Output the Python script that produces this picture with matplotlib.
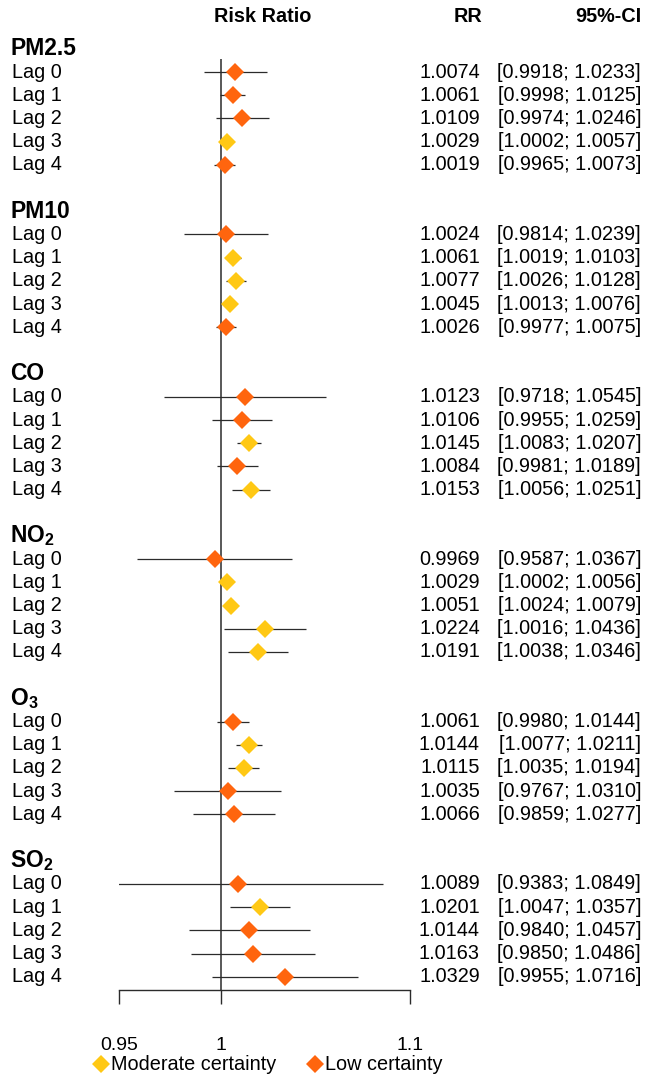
import matplotlib
matplotlib.use("Agg")
import matplotlib.pyplot as plt
import matplotlib.transforms as mtransforms
from matplotlib.lines import Line2D
from matplotlib.ticker import FixedLocator, FixedFormatter, NullLocator

plt.rcParams['font.family'] = ['Liberation Sans', 'DejaVu Sans']
plt.rcParams['mathtext.fontset'] = 'custom'
plt.rcParams['mathtext.rm'] = 'Liberation Sans'
plt.rcParams['mathtext.bf'] = 'Liberation Sans:bold'

# ---------------- data ----------------
pollutants = ['PM2.5', 'PM10', 'CO', r'NO$_{\mathbf{2}}$', r'O$_{\mathbf{3}}$', r'SO$_{\mathbf{2}}$']
lags = ['Lag 0', 'Lag 1', 'Lag 2', 'Lag 3', 'Lag 4']

rr_pm25 = [1.0074, 1.0061, 1.0109, 1.0029, 1.0019]
lo_pm25 = [0.9918, 0.9998, 0.9974, 1.0002, 0.9965]
hi_pm25 = [1.0233, 1.0125, 1.0246, 1.0057, 1.0073]
ce_pm25 = ['L', 'L', 'L', 'M', 'L']

rr_pm10 = [1.0024, 1.0061, 1.0077, 1.0045, 1.0026]
lo_pm10 = [0.9814, 1.0019, 1.0026, 1.0013, 0.9977]
hi_pm10 = [1.0239, 1.0103, 1.0128, 1.0076, 1.0075]
ce_pm10 = ['L', 'M', 'M', 'M', 'L']

rr_co = [1.0123, 1.0106, 1.0145, 1.0084, 1.0153]
lo_co = [0.9718, 0.9955, 1.0083, 0.9981, 1.0056]
hi_co = [1.0545, 1.0259, 1.0207, 1.0189, 1.0251]
ce_co = ['L', 'L', 'M', 'L', 'M']

rr_no2 = [0.9969, 1.0029, 1.0051, 1.0224, 1.0191]
lo_no2 = [0.9587, 1.0002, 1.0024, 1.0016, 1.0038]
hi_no2 = [1.0367, 1.0056, 1.0079, 1.0436, 1.0346]
ce_no2 = ['L', 'M', 'M', 'M', 'M']

rr_o3 = [1.0061, 1.0144, 1.0115, 1.0035, 1.0066]
lo_o3 = [0.9980, 1.0077, 1.0035, 0.9767, 0.9859]
hi_o3 = [1.0144, 1.0211, 1.0194, 1.0310, 1.0277]
ce_o3 = ['L', 'M', 'M', 'L', 'L']

rr_so2 = [1.0089, 1.0201, 1.0144, 1.0163, 1.0329]
lo_so2 = [0.9383, 1.0047, 0.9840, 0.9850, 0.9955]
hi_so2 = [1.0849, 1.0357, 1.0457, 1.0486, 1.0716]
ce_so2 = ['L', 'M', 'L', 'L', 'L']

xticks = [0.95, 1.0, 1.1]
xtick_labels = ['0.95', '1', '1.1']
legend_labels = ['Moderate certainty', 'Low certainty']

groups = [
    (rr_pm25, lo_pm25, hi_pm25, ce_pm25),
    (rr_pm10, lo_pm10, hi_pm10, ce_pm10),
    (rr_co, lo_co, hi_co, ce_co),
    (rr_no2, lo_no2, hi_no2, ce_no2),
    (rr_o3, lo_o3, hi_o3, ce_o3),
    (rr_so2, lo_so2, hi_so2, ce_so2),
]

# ---------------- style ----------------
W, H = 654, 1080
YEL = '#FFC814'
ORA = '#FF650E'
colors = {'M': YEL, 'L': ORA}
LINEC = '#2b2b2b'

row0_px = 48.8
row_px = 23.2
top_px, bot_px = 40, 990
x_left_px, x_right_px = 119, 410

fig = plt.figure(figsize=(W / 100, H / 100), dpi=100)
ax = fig.add_axes([x_left_px / W, 1 - bot_px / H,
                   (x_right_px - x_left_px) / W, (bot_px - top_px) / H])
ax.set_xscale('log')
ax.set_xlim(0.95, 1.1)
ymin_row = (top_px - row0_px) / row_px
ymax_row = (bot_px - row0_px) / row_px
ax.set_ylim(ymax_row, ymin_row)

for s in ['top', 'right', 'left']:
    ax.spines[s].set_visible(False)
ax.spines['bottom'].set_color(LINEC)
ax.spines['bottom'].set_linewidth(1.0)
ax.set_yticks([])
ax.xaxis.set_major_locator(FixedLocator(xticks))
ax.xaxis.set_major_formatter(FixedFormatter(xtick_labels))
ax.xaxis.set_minor_locator(NullLocator())
ax.tick_params(axis='x', direction='out', length=10, width=1.0, color=LINEC,
               labelsize=14, pad=24, labelcolor='black')

trans = mtransforms.blended_transform_factory(fig.transFigure, ax.transData)

# reference line
ax.vlines(1.0, 0.45, ymax_row, color=LINEC, lw=1.1, zorder=1)

row = 0
for gi, (rr, lo, hi, ce) in enumerate(groups):
    ax.text(10 / W, row, pollutants[gi], transform=trans, ha='left', va='center',
            fontsize=16.5, fontweight='bold')
    for li in range(5):
        r = row + 1 + li
        ax.plot([lo[li], hi[li]], [r, r], color=LINEC, lw=0.9, zorder=2,
                solid_capstyle='butt')
        ax.plot([rr[li]], [r], marker='D', ms=9.4, color=colors[ce[li]],
                markeredgewidth=0, zorder=3, linestyle='none')
        ax.text(12 / W, r, lags[li], transform=trans, ha='left', va='center', fontsize=14.3)
        ax.text(480 / W, r, '%.4f' % rr[li], transform=trans, ha='right',
                va='center', fontsize=14.3)
        ax.text(641 / W, r, '[%.4f; %.4f]' % (lo[li], hi[li]), transform=trans,
                ha='right', va='center', fontsize=14.3)
    row += 7

# column headers
hy = 1 - 17 / H
fig.text(263 / W, hy, 'Risk Ratio', ha='center', va='center', fontsize=14.3, fontweight='bold')
fig.text(482 / W, hy, 'RR', ha='right', va='center', fontsize=14.3, fontweight='bold')
fig.text(641 / W, hy, '95%-CI', ha='right', va='center', fontsize=14.3, fontweight='bold')

# legend
handles = [Line2D([], [], marker='D', ms=9.4, color=YEL, markeredgewidth=0, linestyle='none'),
           Line2D([], [], marker='D', ms=9.4, color=ORA, markeredgewidth=0, linestyle='none')]
fig.legend(handles, legend_labels, loc='center', bbox_to_anchor=(268 / W, 1 - 1065 / H),
           ncol=2, frameon=False, fontsize=14.3, handlelength=0.7, handletextpad=0.15,
           columnspacing=1.6, borderpad=0, borderaxespad=0)

fig.savefig('out.png', dpi=100, facecolor='white')
